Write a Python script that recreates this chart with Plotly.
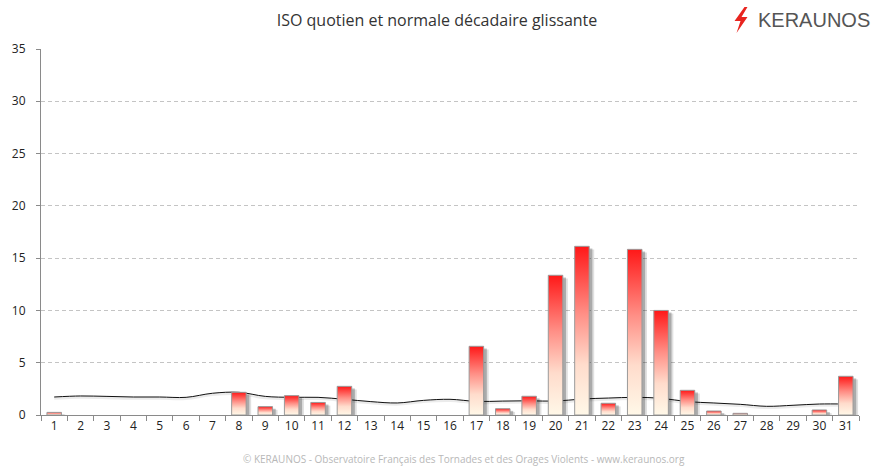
import plotly.graph_objects as go

days = list(range(1, 32))
iso = [0.25, 0, 0, 0, 0, 0, 0, 2.17, 0.8, 1.85, 1.2, 2.74, 0, 0, 0, 0,
       6.57, 0.6, 1.79, 13.36, 16.13, 1.12, 15.84, 10.0, 2.36, 0.38, 0.16,
       0, 0, 0.48, 3.7]
normale = [1.72, 1.82, 1.78, 1.72, 1.72, 1.69, 2.08, 2.17, 1.78, 1.69, 1.69,
           1.5, 1.28, 1.15, 1.4, 1.5, 1.3, 1.33, 1.36, 1.33, 1.53, 1.62, 1.69,
           1.6, 1.28, 1.15, 1.02, 0.83, 0.93, 1.05, 1.05]
ytick_vals = [0, 5, 10, 15, 20, 25, 30, 35]

W, H = 874, 471
L, R, T, B = 37.5, 859, 49, 415
BW = 0.55

fig = go.Figure()

# line (drawn behind bars)
fig.add_trace(go.Scatter(x=days, y=[n - 0.12 for n in normale], mode="lines",
                         line=dict(color="rgba(0,0,0,0.08)", width=3, shape="spline"),
                         hoverinfo="skip", showlegend=False))
fig.add_trace(go.Scatter(x=days, y=normale, mode="lines",
                         line=dict(color="#111111", width=1, shape="spline"),
                         showlegend=False))

# shadows
for dx, dy, col in [(0.19, 0.3, "rgba(0,0,0,0.12)"), (0.12, 0.2, "rgba(0,0,0,0.24)")]:
    sx, sy = [], []
    for d, v in zip(days, iso):
        if v > 0:
            sx.append(d + dx)
            sy.append(max(v - dy, 0.02))
    fig.add_trace(go.Bar(x=sx, y=sy, width=BW, marker=dict(color=col, line=dict(width=0)),
                         hoverinfo="skip", showlegend=False))

# gradient bars
for d, v in zip(days, iso):
    if v <= 0:
        continue
    x0, x1 = d - BW / 2, d + BW / 2
    fig.add_trace(go.Scatter(
        x=[x0, x0, x1, x1, x0], y=[0, v, v, 0, 0], mode="lines",
        fill="toself",
        fillgradient=dict(type="vertical",
                          colorscale=[[0, "#fff8e8"], [0.3, "#ffdccc"],
                                      [0.6, "#ff8f86"], [1, "#ff1818"]]),
        line=dict(color="#9a9a9a", width=1),
        hoverinfo="skip", showlegend=False))

def px2paper(px, py):
    return (px - L) / (R - L), (B - py) / (B - T)

bolt = [(744, 7), (734, 21), (740, 21), (736, 33), (747, 17), (741, 17), (747, 7)]
pts = [px2paper(a, b) for a, b in bolt]
path = "M " + " L ".join(f"{a:.5f},{b:.5f}" for a, b in pts) + " Z"

fig.update_layout(
    width=W, height=H,
    margin=dict(l=L, r=W - R, t=T, b=H - B),
    paper_bgcolor="white", plot_bgcolor="white",
    barmode="overlay",
    showlegend=False,
    font=dict(family="Open Sans", size=12, color="#222"),
    title=dict(text="ISO quotien et normale décadaire glissante",
               x=0.5, xanchor="center", y=1 - 20 / H, yanchor="middle",
               yref="container",
               font=dict(family="Open Sans", size=16, color="#333")),
    xaxis=dict(range=[0.5, 31.5], tickvals=days, ticktext=[str(d) for d in days],
               ticks="", showgrid=False, zeroline=False,
               showline=True, linecolor="#8a8a8a", linewidth=1,
               tickfont=dict(size=12, color="#222"),
               minor=dict(tickvals=[d + 0.5 for d in range(0, 32)], ticks="outside",
                          ticklen=5, tickcolor="#8a8a8a", showgrid=False)),
    yaxis=dict(range=[0, 35], tickvals=ytick_vals, ticks="outside", ticklen=4,
               tickcolor="#8a8a8a", showline=True, linecolor="#8a8a8a", linewidth=1,
               gridcolor="#c4c4c4", griddash="4px,3px", gridwidth=1, zeroline=False,
               tickfont=dict(size=12, color="#222"), ticklabelstandoff=8),
    shapes=[dict(type="path", xref="paper", yref="paper", path=path,
                 fillcolor="#e8241f", line=dict(width=0))],
    annotations=[
        dict(text="KERAUNOS", xref="paper", yref="paper",
             x=px2paper(756, 0)[0], y=px2paper(0, 20)[1], xanchor="left", yanchor="middle",
             showarrow=False, font=dict(family="Liberation Sans", size=20, color="#555")),
        dict(text="© KERAUNOS - Observatoire Français des Tornades et des Orages Violents - www.keraunos.org",
             xref="paper", yref="paper", x=px2paper(462, 0)[0], y=px2paper(0, 459)[1],
             xanchor="center", yanchor="middle", showarrow=False,
             font=dict(family="Open Sans", size=10, color="#b8b8b8")),
    ],
)

fig.write_html("out.html")
